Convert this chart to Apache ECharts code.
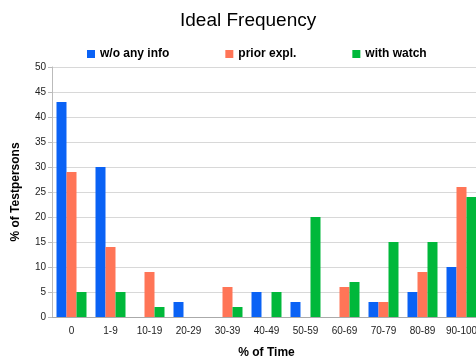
<!DOCTYPE html>
<html><head><meta charset="utf-8">
<script src="https://cdn.jsdelivr.net/npm/echarts@6/dist/echarts.min.js"></script>
<style>html,body{margin:0;padding:0;background:#fff}#c{width:476px;height:358px}</style>
</head><body><div id="c"></div>
<script>
var categories = ['0','1-9','10-19','20-29','30-39','40-49','50-59','60-69','70-79','80-89','90-100'];
var woInfo = [43, 30, 0, 3, 0, 5, 3, 0, 3, 5, 10];
var priorExpl = [29, 14, 9, 0, 6, 0, 0, 6, 3, 9, 26];
var withWatch = [5, 5, 2, 0, 2, 5, 20, 7, 15, 15, 24];
var yTicks = [0, 50, 5];

var chart = echarts.init(document.getElementById('c'), null, {renderer:'canvas'});
var font = 'Liberation Sans, Arial, sans-serif';
chart.setOption({
  animation: false,
  title: { text: 'Ideal Frequency', left: 175, top: 6,
    textStyle: { fontFamily: font, fontSize: 19, fontWeight: 'normal', color: '#000' } },
  legend: { top: 43, left: 82, itemWidth: 8, itemHeight: 8, itemGap: 56, icon: 'rect',
    textStyle: { fontFamily: font, fontSize: 12, fontWeight: 'bold', color: '#000' },
    data: ['w/o any info', 'prior expl.', 'with watch'] },
  grid: { left: 52, top: 67, width: 429, height: 250, containLabel: false, outerBoundsMode: 'none' },
  xAxis: { type: 'category', data: categories, name: '% of Time', nameLocation: 'middle', nameGap: 30,
    nameTextStyle: { fontFamily: font, fontSize: 12, fontWeight: 'bold', color: '#000' },
    axisLine: { lineStyle: { color: '#aaa' } },
    axisTick: { length: 4, lineStyle: { color: '#bbb' } },
    axisLabel: { fontFamily: font, fontSize: 10, color: '#222', margin: 9, interval: 0 } },
  yAxis: { type: 'value', min: yTicks[0], max: yTicks[1], interval: yTicks[2],
    name: '% of Testpersons', nameLocation: 'middle', nameGap: 30,
    nameTextStyle: { fontFamily: font, fontSize: 12, fontWeight: 'bold', color: '#000' },
    axisLine: { show: true, lineStyle: { color: '#bbb' } },
    axisTick: { show: true, length: 4, lineStyle: { color: '#bbb' } },
    axisLabel: { fontFamily: font, fontSize: 10, color: '#222', margin: 6 },
    splitLine: { lineStyle: { color: '#d8d8d8', width: 1 } } },
  series: [
    { name: 'w/o any info', type: 'bar', data: woInfo, barWidth: 10, barGap: '0%', itemStyle: { color: '#0a62f5' } },
    { name: 'prior expl.', type: 'bar', data: priorExpl, barWidth: 10, barGap: '0%', itemStyle: { color: '#ff7557' } },
    { name: 'with watch', type: 'bar', data: withWatch, barWidth: 10, barGap: '0%', itemStyle: { color: '#00b83a' } }
  ]
});
</script></body></html>
